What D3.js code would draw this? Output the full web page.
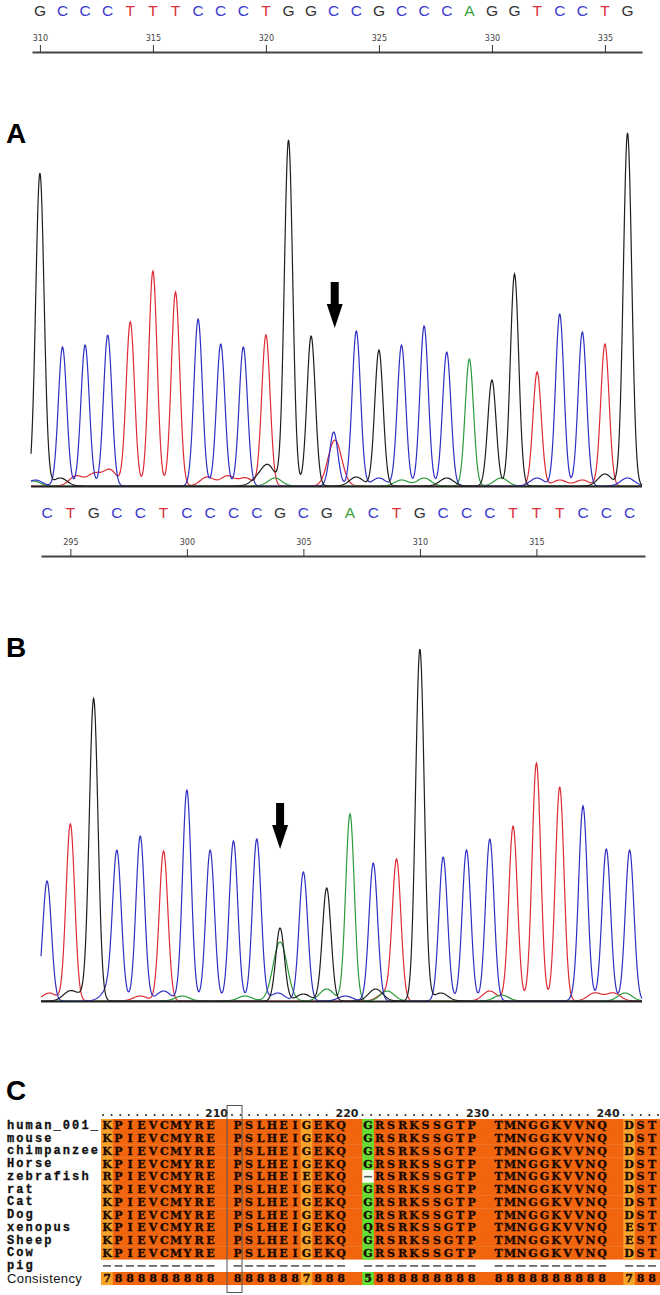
<!DOCTYPE html>
<html>
<head>
<meta charset="utf-8">
<script src="https://cdn.jsdelivr.net/npm/d3@7"></script>
<style>
  body { margin: 0; background: #fff; }
  svg { display: block; font-family: Arial, "Liberation Sans", sans-serif; }
</style>
</head>
<body>
<svg id="fig" width="660" height="1295"></svg>
<script>
// ---- Panel A (top read): bases, peak heights, ruler
const seqA = "GCCCTTTCCCTGGCCGCCCAGGTCCTG";
const startA = 310;
const ticksA = [310, 315, 320, 325, 330, 335];
const heightsA = [313, 139, 141, 151, 164, 215, 194, 167, 142, 139, 151, 346, 150, 54,
                  155, 136, 141, 160, 134, 127, 106, 212, 114, 172, 154, 142, 353];
// small background bumps [base, position, height]
const minorA = [
  ["C", 309.8, 6], ["A", 309.7, 5], ["G", 310.9, 8], ["T", 311.6, 10], ["T", 312.4, 12],
  ["T", 313.1, 16], ["T", 317.4, 9], ["T", 318.3, 10], ["T", 319.1, 8], ["G", 319.6, 6],
  ["G", 320.1, 20], ["A", 320.4, 8], ["T", 323.05, 46], ["G", 324.0, 9], ["C", 325.0, 8],
  ["A", 326.0, 6], ["A", 327.0, 8], ["G", 328.0, 8], ["A", 330.4, 8], ["C", 332.0, 8],
  ["T", 333.0, 6], ["T", 334.0, 6], ["G", 335.0, 12], ["C", 336.0, 8]
];
const arrowA = 323;

// ---- Panel B (bottom read)
const seqB = "CTGCCTCCCCGCGACTGCCCTTTCCC";
const startB = 294;
const ticksB = [295, 300, 305, 310, 315];
const heightsB = [120, 177, 299, 140, 165, 150, 211, 151, 160, 162, 73, 129, 113,
                  187, 138, 140, 352, 144, 151, 162, 175, 238, 214, 187, 152, 151];
const minorB = [
  ["T", 294.1, 8], ["G", 295.0, 10], ["G", 295.7, 6], ["C", 296.6, 8], ["C", 296.9, 8],
  ["T", 298.0, 5], ["C", 299.0, 10], ["A", 299.8, 5], ["A", 302.5, 5], ["C", 303.9, 8],
  ["A", 304.0, 59], ["G", 305.0, 7], ["A", 306.0, 12], ["C", 306.8, 5], ["G", 308.1, 12],
  ["A", 308.6, 10], ["T", 308.5, 8], ["G", 310.9, 8], ["T", 313.0, 10], ["A", 313.5, 6],
  ["C", 317.0, 8], ["T", 317.5, 8], ["T", 318.3, 8], ["A", 318.8, 8]
];
const arrowB = 304;

// ---- Panel C: alignment
const species = ["human_001_", "mouse", "chimpanzee", "Horse", "zebrafish", "rat",
                 "Cat", "Dog", "xenopus", "Sheep", "Cow", "pig"];
const sequences = [
  "KPIEVCMYREPSLHEIGEKQGRSRKSSGTPTMNGGKVVNQDST",
  "KPIEVCMYREPSLHEIGEKQGRSRKSSGTPTMNGGKVVNQDST",
  "KPIEVCMYREPSLHEIGEKQGRSRKSSGTPTMNGGKVVNQDST",
  "KPIEVCMYREPSLHEIGEKQGRSRKSSGTPTMNGGKVVNQDST",
  "RPIEVCMYREPSLHEIEEKQ-RSRKSSGTPTMNGGKVVNQDST",
  "KPIEVCMYREPSLHEIGEKQGRSRKSSGTPTMNGGKVVNQDST",
  "KPIEVCMYREPSLHEIGEKQGRSRKSSGTPTMNGGKVVNQDST",
  "KPIEVCMYREPSLHEIGEKQGRSRKSSGTPTMNGGKVVNQDST",
  "KPIEVCMYREPSLHEIGEKQQRSRKSSGTPTMNGGKVVNQEST",
  "KPIEVCMYREPSLHEIGEKQGRSRKSSGTPTMNGGKVVNQEST",
  "KPIEVCMYREPSLHEIGEKQGRSRKSSGTPTMNGGKVVNQDST",
  "-------------------------------------------"
];
const consistency = "7888888888888888788858888888888888888888788";
const rulerLabels = ["210", "220", "230", "240"];
const boxedColumn = 10;

const baseColor = { G: "#1e1e1e", C: "#2f2fc4", T: "#de2b35", A: "#2a9a3a" };
const letterColor = { G: "#333", C: "#3b3bd0", T: "#d8303c", A: "#3aa040" };
const scoreColor = { "8": "#f0650e", "7": "#f7a42c", "5": "#62e034" };

const svg = d3.select("#fig");

// ---- chromatogram helper
function drawTrace(opts) {
  const { seq, start, heights, minor, x, y, x0, x1 } = opts;
  const g = svg.append("g");
  const peaks = seq.split("").map((b, i) => ({ b, p: start + i, h: heights[i], s: 0.185 }))
    .concat(minor.map(m => ({ b: m[0], p: m[1], h: m[2], s: 0.3 })));
  const xs = d3.range(x0, x1 + 0.01, 0.5);
  ["T", "A", "C", "G"].forEach(ch => {
    const own = peaks.filter(d => d.b === ch);
    const pts = xs.map(px => {
      const pos = x.invert(px);
      const v = d3.sum(own, d => d.h * Math.exp(-((pos - d.p) ** 2) / (2 * d.s * d.s)));
      return [px, y(v)];
    });
    g.append("path")
      .attr("d", d3.line()(pts))
      .attr("fill", "none")
      .attr("stroke", baseColor[ch])
      .attr("stroke-width", 1.2);
  });
  g.append("line")
    .attr("x1", x0).attr("x2", x1)
    .attr("y1", y(0) + 0.5).attr("y2", y(0) + 0.5)
    .attr("stroke", "#222").attr("stroke-width", 2);
}

function drawRuler(opts) {
  const { seq, start, ticks, x, letterY, axisY } = opts;
  svg.append("g").selectAll("text")
    .data(seq.split(""))
    .join("text")
    .attr("x", (d, i) => x(start + i))
    .attr("y", letterY)
    .attr("text-anchor", "middle")
    .attr("font-size", 15.5)
    .attr("fill", d => letterColor[d])
    .text(d => d);

  const axis = d3.axisTop(x).tickValues(ticks).tickSize(7).tickSizeOuter(0).tickPadding(4);
  const ga = svg.append("g")
    .attr("transform", `translate(0, ${axisY})`)
    .call(axis);
  ga.select(".domain").attr("stroke", "#444").attr("stroke-width", 2);
  ga.selectAll(".tick line").attr("stroke", "#333");
  ga.selectAll(".tick text").attr("font-size", 8).attr("fill", "#444")
    .attr("font-family", "DejaVu Sans, sans-serif");
}

function drawArrow(cx, top) {
  svg.append("path")
    .attr("d", `M${cx - 4},${top} H${cx + 4} V${top + 22} H${cx + 8} L${cx},${top + 46} L${cx - 8},${top + 22} H${cx - 4} Z`)
    .attr("fill", "#000");
}

// ---- Panel A
const xA = d3.scaleLinear().domain([309.65, 336.64]).range([32, 642]);
const yA = d3.scaleLinear().domain([0, 360]).range([486, 126]);
drawRuler({ seq: seqA, start: startA, ticks: ticksA, x: xA, letterY: 16, axisY: 52 });
drawTrace({ seq: seqA, start: startA, heights: heightsA, minor: minorA, x: xA, y: yA, x0: 31, x1: 642 });
drawArrow(xA(arrowA) + 1, 282);

// ---- Panel B
const xB = d3.scaleLinear().domain([293.74, 319.66]).range([41, 645]);
const yB = d3.scaleLinear().domain([0, 360]).range([1001, 641]);
drawRuler({ seq: seqB, start: startB, ticks: ticksB, x: xB, letterY: 518, axisY: 556 });
drawTrace({ seq: seqB, start: startB, heights: heightsB, minor: minorB, x: xB, y: yB, x0: 41, x1: 642 });
drawArrow(xB(arrowB), 803);

// ---- panel letters
[["A", 143], ["B", 657], ["C", 1100]].forEach(([t, yy]) => {
  svg.append("text").attr("x", 6).attr("y", yy)
    .attr("font-size", 28).attr("font-weight", "bold").attr("fill", "#000").text(t);
});

// ---- Panel C: alignment
const rows = species.concat(["Consistency"]);
const yRow = d3.scaleBand().domain(rows).range([1119, 1119 + rows.length * 12.75]);
const slot = i => i + Math.floor(i / 10) * 1.35;
const xCol = d3.scaleLinear().domain([0, 1]).range([107, 118.5]);
const cw = 11.5;
const gC = svg.append("g");

// backgrounds
rows.forEach(r => {
  if (r === "pig") return;
  gC.append("rect")
    .attr("x", 101).attr("y", yRow(r))
    .attr("width", 660 - 101).attr("height", yRow.bandwidth() + 0.3)
    .attr("fill", scoreColor["8"]);
});

const cells = [];
sequences.forEach((s, ri) => {
  s.split("").forEach((c, ci) => cells.push({ row: species[ri], c, ci }));
});
consistency.split("").forEach((c, ci) => cells.push({ row: "Consistency", c, ci }));

gC.selectAll("rect.cell")
  .data(cells.filter(d => d.row !== "pig" && consistency[d.ci] !== "8"))
  .join("rect")
  .attr("class", "cell")
  .attr("x", d => xCol(slot(d.ci)) - cw / 2)
  .attr("y", d => yRow(d.row))
  .attr("width", cw)
  .attr("height", yRow.bandwidth() + 0.3)
  .attr("fill", d => d.c === "-" ? "#f4fff0" : scoreColor[consistency[d.ci]]);

gC.selectAll("text.res")
  .data(cells.filter(d => d.c !== "-"))
  .join("text")
  .attr("class", "res")
  .attr("x", d => xCol(slot(d.ci)))
  .attr("y", d => yRow(d.row) + yRow.bandwidth() / 2 + 4)
  .attr("text-anchor", "middle")
  .attr("font-family", "DejaVu Serif, serif")
  .attr("font-weight", "bold")
  .attr("font-size", 11)
  .attr("fill", "#1c0a00")
  .attr("stroke", "#1c0a00")
  .attr("stroke-width", 0.35)
  .text(d => d.c);

gC.selectAll("rect.gap")
  .data(cells.filter(d => d.c === "-"))
  .join("rect")
  .attr("class", "gap")
  .attr("x", d => xCol(slot(d.ci)) - 4)
  .attr("y", d => yRow(d.row) + yRow.bandwidth() / 2 - 0.5)
  .attr("width", 8).attr("height", 1.6)
  .attr("fill", "#555");

// row labels
const isCons = d => d === "Consistency";
gC.selectAll("text.lab")
  .data(rows)
  .join("text")
  .attr("class", "lab")
  .attr("x", 7)
  .attr("y", d => yRow(d) + yRow.bandwidth() / 2 + (isCons(d) ? 5 : 3.5))
  .attr("font-family", d => isCons(d) ? "Arial, Liberation Sans, sans-serif" : "Liberation Mono, monospace")
  .attr("font-size", d => isCons(d) ? 13 : 12)
  .attr("letter-spacing", d => isCons(d) ? 0.4 : 2.1)
  .attr("fill", "#111")
  .attr("stroke", d => isCons(d) ? "none" : "#111")
  .attr("stroke-width", 0.3)
  .style("font-weight", d => isCons(d) ? "normal" : "bold")
  .text(d => d);

// ruler above alignment
const labelEnds = rulerLabels.map((t, k) => xCol(slot(k * 10 + 9)) + 17.5);
const hdrY = 1116;
gC.selectAll("text.num")
  .data(rulerLabels)
  .join("text")
  .attr("class", "num")
  .attr("x", (d, k) => labelEnds[k])
  .attr("y", hdrY + 1)
  .attr("text-anchor", "end")
  .attr("font-family", "DejaVu Sans, sans-serif")
  .attr("font-weight", "bold")
  .attr("font-size", 11)
  .attr("fill", "#222")
  .text(d => d);
const dotSpans = [[103, labelEnds[0] - 23]];
labelEnds.forEach((e, k) => dotSpans.push([e + 4, k < labelEnds.length - 1 ? labelEnds[k + 1] - 25 : 660]));
const dots = [];
dotSpans.forEach(([a, b]) => {
  const n = Math.floor((b - a) / 8.6) + 1;
  d3.range(n).forEach(j => dots.push(a + j * 8.6));
});
gC.selectAll("circle.dot")
  .data(dots)
  .join("circle")
  .attr("class", "dot")
  .attr("cx", d => d).attr("cy", hdrY - 1)
  .attr("r", 1).attr("fill", "#222");

// box around the highlighted column
gC.append("rect")
  .attr("x", xCol(slot(boxedColumn)) - 10.5)
  .attr("y", 1105.5)
  .attr("width", 15)
  .attr("height", 187)
  .attr("fill", "none")
  .attr("stroke", "#555")
  .attr("stroke-width", 1);
</script>
</body>
</html>
